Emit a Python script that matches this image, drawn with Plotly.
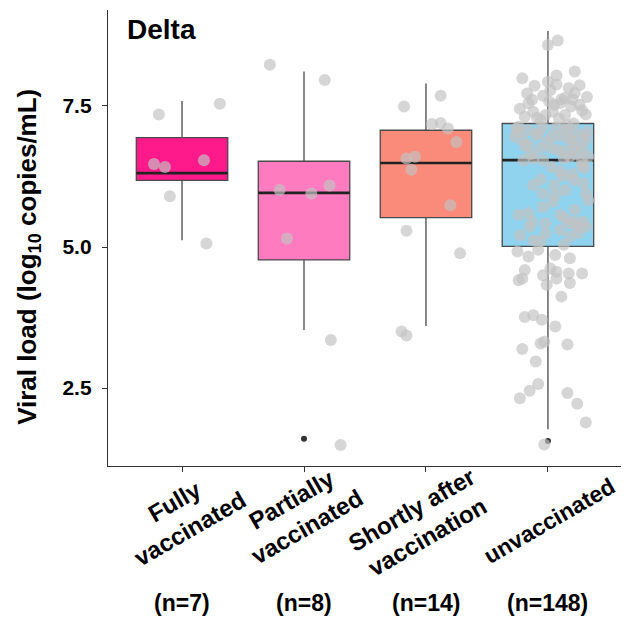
import plotly.graph_objects as go

# ---------------- data ----------------
categories = ["Fully<br>vaccinated", "Partially<br>vaccinated", "Shortly after<br>vaccination", "unvaccinated"]
n_labels = ["(n=7)", "(n=8)", "(n=14)", "(n=148)"]
box_colors = ["#FF1A8C", "#FF7BBF", "#FA8A7A", "#8FD3EE"]

q1 = [6.18, 4.77, 5.52, 5.01]
median = [6.31, 5.96, 6.49, 6.54]
q3 = [6.94, 6.52, 7.07, 7.19]
lower_whisker = [5.12, 3.53, 3.60, 1.77]
upper_whisker = [7.59, 8.11, 7.90, 8.83]

outlier_group = [1, 3]
outlier_value = [1.60, 1.56]

fully_vals = [7.35, 7.54, 6.47, 6.42, 6.54, 5.90, 5.06]
fully_jit = [-0.19, 0.31, -0.23, -0.14, 0.18, -0.10, 0.20]

partial_vals = [8.23, 7.96, 6.01, 5.95, 6.09, 5.15, 3.35, 1.49]
partial_jit = [-0.28, 0.17, -0.20, 0.06, 0.21, -0.14, 0.22, 0.30]

shortly_vals = [7.49, 7.68, 7.18, 7.20, 7.10, 6.86, 6.57, 6.60, 6.37, 5.74, 5.29, 4.89, 3.50, 3.43]
shortly_jit = [-0.18, 0.12, 0.05, 0.12, 0.18, 0.25, -0.16, -0.09, -0.12, 0.20, -0.16, 0.28, -0.20, -0.16]

unvacc_vals = [
    8.58, 8.66, 7.99, 7.86, 8.11, 7.93, 8.04, 7.87, 7.78, 7.66, 7.73, 7.55, 7.61, 7.64, 7.55, 7.49,
    7.31, 7.34, 7.34, 7.35, 7.52, 7.25, 7.19, 7.13,
    7.04, 7.07, 7.02, 7.07, 7.02, 7.04, 6.90, 6.96, 6.96, 6.93, 6.90, 6.81, 6.75, 6.75, 6.75, 6.72,
    6.69, 6.54, 6.57, 6.54, 6.57, 6.54, 6.60, 6.60, 6.42, 6.45, 6.34, 6.10, 6.10, 6.01, 6.19, 6.13,
    5.95, 5.92, 5.95, 5.83, 5.71, 5.57, 5.60, 5.57, 5.66, 5.45, 5.42, 5.42, 5.45, 5.45,
    5.21, 5.36, 5.24, 5.30, 5.18, 5.36, 5.36, 5.12, 5.04, 4.92, 4.83, 4.95, 4.86, 4.80, 4.59, 4.62,
    4.56, 4.50, 4.41, 4.44, 4.44, 4.53, 4.53, 4.33, 4.36, 4.12, 3.76, 3.79, 3.71, 3.59,
    3.29, 3.32, 3.27, 3.19, 2.97, 2.57, 2.45, 2.32, 2.41, 2.22, 1.89, 1.50,
    7.45, 7.68, 7.40, 7.62, 7.52, 7.29, 7.58, 7.82, 7.72, 7.42, 7.40, 7.28, 7.62, 7.88,
    7.10, 6.98, 7.12, 6.98, 6.80, 6.86, 6.86, 6.65, 6.72, 6.82, 6.95, 7.16, 7.13, 6.64,
    6.20, 6.26, 6.40, 6.30, 5.80, 5.25, 5.10, 5.50,
]
unvacc_jit = [
    0.00, 0.08, -0.21, -0.11, 0.22, 0.00, 0.07, 0.26, 0.02, 0.32, 0.22, -0.16, -0.13, 0.14, 0.10, 0.19,
    -0.19, -0.02, 0.14, 0.31, 0.05, -0.06, 0.21, -0.24,
    -0.25, -0.16, -0.08, 0.14, 0.22, 0.32, -0.21, 0.03, 0.10, 0.18, 0.31, -0.16, -0.06, 0.03, 0.21, 0.29,
    0.14, -0.20, -0.12, -0.04, 0.13, 0.28, 0.33, 0.18, 0.03, 0.28, 0.10, -0.12, 0.05, 0.14, 0.21, 0.29,
    -0.04, 0.06, 0.31, 0.33, -0.04, -0.24, -0.16, 0.10, 0.22, -0.13, -0.02, 0.18, 0.29, 0.22,
    -0.23, -0.15, -0.02, 0.10, 0.18, 0.24, 0.31, -0.12, 0.13, -0.25, -0.16, -0.08, 0.06, 0.18, -0.19, 0.02,
    0.07, -0.04, -0.24, -0.21, 0.07, 0.17, 0.28, -0.01, 0.18, 0.11, -0.19, -0.12, -0.05, 0.06,
    -0.06, -0.03, 0.16, -0.21, -0.10, -0.08, -0.15, -0.23, 0.16, 0.24, 0.31, -0.03,
    -0.23, -0.04, 0.04, 0.11, 0.26, -0.09, 0.01, 0.17, -0.17, 0.28, -0.12, 0.09, 0.20, 0.07,
    -0.26, -0.09, 0.07, 0.29, -0.19, 0.19, -0.01, -0.14, 0.09, 0.26, -0.27, 0.16, -0.04, 0.23,
    -0.06, 0.12, 0.30, 0.20, 0.04, 0.25, -0.06, 0.14,
]

y_tickvals = [2.5, 5.0, 7.5]
y_ticktext = ["2.5", "5.0", "7.5"]

# ---------------- figure ----------------
FONT = "Liberation Sans, Arial, sans-serif"
BOX_W = 0.75
fig = go.Figure()

for i in range(len(categories)):
    fig.add_trace(go.Box(
        x=[i], q1=[q1[i]], median=[median[i]], q3=[q3[i]],
        lowerfence=[lower_whisker[i]], upperfence=[upper_whisker[i]],
        width=BOX_W, whiskerwidth=0, fillcolor=box_colors[i],
        line=dict(color="#4a4a4a", width=1.3), boxpoints=False,
        showlegend=False, hoverinfo="skip",
    ))
    fig.add_trace(go.Scatter(
        x=[i - BOX_W / 2, i + BOX_W / 2], y=[median[i], median[i]],
        mode="lines", line=dict(color="#222222", width=2.6),
        showlegend=False, hoverinfo="skip",
    ))

fig.add_trace(go.Scatter(
    x=outlier_group, y=outlier_value, mode="markers",
    marker=dict(color="#333333", size=6), showlegend=False,
))

groups = [(fully_vals, fully_jit), (partial_vals, partial_jit),
          (shortly_vals, shortly_jit), (unvacc_vals, unvacc_jit)]
for i, (vals, jit) in enumerate(groups):
    fig.add_trace(go.Scatter(
        x=[i + j for j in jit], y=vals, mode="markers",
        marker=dict(color="rgba(195,195,195,0.68)", size=12, line=dict(width=0)),
        showlegend=False,
    ))

annotations = []
annotations.append(dict(
    text="<b>Delta</b>", xref="paper", yref="paper", x=0.033, y=0.995,
    xanchor="left", yanchor="top", showarrow=False,
    font=dict(family=FONT, size=28, color="#000000"),
))
annotations.append(dict(
    text="<b>Viral load (log<sub>10</sub> copies/mL)</b>", xref="paper", yref="paper",
    x=-0.155, y=0.458, xanchor="center", yanchor="middle", textangle=-90,
    showarrow=False, font=dict(family=FONT, size=26, color="#000000"),
))
label_centers_x = [0.0, 0.96, 1.95, 3.01]
label_centers_y = [-0.107, -0.103, -0.126, -0.121]
label_sizes = [24, 24, 24, 23]
for i in range(len(categories)):
    annotations.append(dict(
        text="<b>" + categories[i] + "</b>", xref="x", yref="paper",
        x=label_centers_x[i], y=label_centers_y[i], xanchor="center", yanchor="middle",
        textangle=-30, showarrow=False, align="center",
        font=dict(family=FONT, size=label_sizes[i], color="#000000"),
    ))
    annotations.append(dict(
        text="<b>" + n_labels[i] + "</b>", xref="x", yref="paper",
        x=i, y=-0.300, xanchor="center", yanchor="middle", showarrow=False,
        font=dict(family=FONT, size=23, color="#000000"),
    ))

# the page body adds an 8 px offset, so the figure is 8 px smaller and shifted
fig.update_layout(
    width=621, height=610,
    margin=dict(l=100, r=3, t=2, b=152),
    paper_bgcolor="white", plot_bgcolor="white",
    annotations=annotations,
    xaxis=dict(
        range=[-0.607, 3.64], showgrid=False, zeroline=False,
        showline=True, linecolor="#333333", linewidth=1.3,
        ticks="outside", ticklen=5, tickcolor="#333333", tickwidth=1.3,
        tickvals=[0, 1, 2, 3], showticklabels=False,
    ),
    yaxis=dict(
        range=[1.117, 9.202], showgrid=False, zeroline=False,
        showline=True, linecolor="#333333", linewidth=1.3,
        ticks="outside", ticklen=5, tickcolor="#333333", tickwidth=1.3,
        tickvals=y_tickvals, ticktext=y_ticktext, ticklabelstandoff=6,
        tickfont=dict(family=FONT, size=21, color="#000000", weight="bold"),
    ),
)

fig.write_html("out.html")
